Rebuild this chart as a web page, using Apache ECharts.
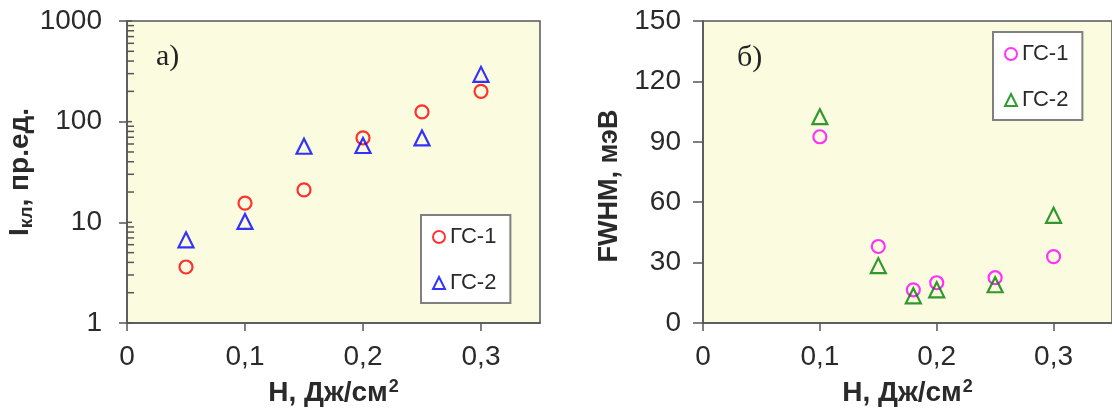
<!DOCTYPE html>
<html><head><meta charset="utf-8">
<script src="https://cdn.jsdelivr.net/npm/echarts@6/dist/echarts.min.js"></script>
<style>html,body{margin:0;padding:0;background:#fff}#c{width:1112px;height:412px}</style>
</head><body><div id="c"></div>
<script>
// Panel a) — log intensity
const xA = [0.05, 0.10, 0.15, 0.20, 0.25, 0.30];
const a_gs1 = [3.6, 15.5, 21, 69, 125, 200];
const a_gs2 = [6.7, 10.2, 57, 58, 69, 295];
// Panel б) — FWHM
const xB = [0.10, 0.15, 0.18, 0.20, 0.25, 0.30];
const b_gs1 = [92.5, 38, 16.5, 20, 22.5, 33];
const b_gs2 = [102.5, 28.5, 13.5, 16.5, 19, 53.5];
// Tick values
const logMajor = [1, 10, 100, 1000];
const logMinor = [2,3,4,5,6,7,8,9,20,30,40,50,60,70,80,90,200,300,400,500,600,700,800,900];
const seriesNames = ['ГС-1', 'ГС-2'];

const chart = echarts.init(document.getElementById('c'));
const FONT = '"Liberation Sans", Arial, sans-serif';
const SERIF = '"Liberation Serif", "DejaVu Serif", serif';
const axisCol = '#555';
const txtCol = '#2a2a2a';
const zip = (xs, ys) => xs.map((x, i) => [x, ys[i]]);
const fmtX = v => (v === 0 ? '0' : String(+v.toFixed(2)).replace('.', ','));

function xAxis(gi) {
  return {
    type: 'value', gridIndex: gi, min: 0, max: 0.35, interval: 0.1,
    name: 'Н, Дж/см{sup|2}', nameLocation: 'middle', nameGap: 55,
    nameTextStyle: { fontFamily: FONT, fontWeight: 'bold', fontSize: 28, color: txtCol,
      rich: { sup: { fontFamily: FONT, fontWeight: 'bold', fontSize: 18, color: txtCol, padding: [0, 0, 12, 1] } } },
    axisLine: { show: true, lineStyle: { color: axisCol, width: 1.5 } },
    axisTick: { show: true, inside: false, length: 8, lineStyle: { color: axisCol, width: 1.5 } },
    axisLabel: { showMaxLabel: false, formatter: fmtX, fontFamily: FONT, fontSize: 28, color: txtCol, margin: 20 },
    splitLine: { show: false }
  };
}

const tickSeries = (vals, len) => ({
  type: 'custom', xAxisIndex: 0, yAxisIndex: 0, silent: true, clip: false, z: 5,
  data: vals.map(v => [0, v]),
  renderItem: (params, api) => {
    const p = api.coord([0, api.value(1)]);
    return { type: 'line', shape: { x1: p[0], y1: p[1], x2: p[0] + len, y2: p[1] },
      style: { stroke: axisCol, lineWidth: 1.5 } };
  }
});

const legendBase = {
  orient: 'vertical', itemGap: 24, itemWidth: 12, itemHeight: 12,
  padding: [11, 14, 9, 11], backgroundColor: '#fff', borderColor: '#808080', borderWidth: 2,
  textStyle: { fontFamily: FONT, fontSize: 22, color: txtCol }, selectedMode: false
};

const option = {
  animation: false,
  backgroundColor: '#fff',
  title: [
    { text: 'a)', left: 151, top: 37, textStyle: { fontFamily: SERIF, fontWeight: 'normal', fontSize: 30, color: '#222' } },
    { text: 'б)', left: 732, top: 38, textStyle: { fontFamily: SERIF, fontWeight: 'normal', fontSize: 30, color: '#222' } }
  ],
  grid: [
    { left: 127, top: 21, width: 413, height: 303, show: true, backgroundColor: '#fbfbe0', borderColor: axisCol, borderWidth: 1.5 },
    { left: 703, top: 21, width: 413, height: 303, show: true, backgroundColor: '#fbfbe0', borderColor: axisCol, borderWidth: 1.5 }
  ],
  legend: [
    Object.assign({}, legendBase, { data: seriesNames, left: 421, top: 215 }),
    Object.assign({}, legendBase, { data: seriesNames.map(n => 'б' + n), left: 993, top: 32, formatter: n => n.slice(1) })
  ],
  xAxis: [xAxis(0), xAxis(1)],
  yAxis: [
    { type: 'log', logBase: 10, gridIndex: 0, min: 1, max: 1000,
      name: 'I{sub|кл}, пр.ед.', nameLocation: 'middle', nameGap: 72, nameRotate: 90,
      nameTextStyle: { fontFamily: FONT, fontWeight: 'bold', fontSize: 28, color: txtCol,
        rich: { sub: { fontFamily: FONT, fontWeight: 'bold', fontSize: 19, color: txtCol, padding: [13, 0, 0, 0] } } },
      axisLine: { show: true, lineStyle: { color: axisCol, width: 1.5 } },
      axisTick: { show: true, inside: false, length: 8, lineStyle: { color: axisCol, width: 1.5 } },
      axisLabel: { formatter: v => String(v), fontFamily: FONT, fontSize: 28, color: txtCol, margin: 25 },
      minorTick: { show: false }, splitLine: { show: false } },
    { type: 'value', gridIndex: 1, min: 0, max: 150, interval: 30,
      name: 'FWHM, мэВ', nameLocation: 'middle', nameGap: 80, nameRotate: 90,
      nameTextStyle: { fontFamily: FONT, fontWeight: 'bold', fontSize: 27, color: txtCol, padding: [0, 28, 0, 0] },
      axisLine: { show: true, lineStyle: { color: axisCol, width: 1.5 } },
      axisTick: { show: true, inside: false, length: 10, lineStyle: { color: axisCol, width: 1.5 } },
      axisLabel: { fontFamily: FONT, fontSize: 28, color: txtCol, margin: 22 },
      splitLine: { show: false } }
  ],
  series: [
    tickSeries(logMinor, 7),
    tickSeries(logMajor, 5),
    { name: seriesNames[0], type: 'scatter', xAxisIndex: 0, yAxisIndex: 0, data: zip(xA, a_gs1), symbol: 'circle', symbolSize: 13,
      itemStyle: { color: 'rgba(0,0,0,0)', borderColor: '#ff0000', borderWidth: 2.2 }, z: 3 },
    { name: seriesNames[1], type: 'scatter', xAxisIndex: 0, yAxisIndex: 0, data: zip(xA, a_gs2), symbol: 'triangle', symbolSize: 15,
      itemStyle: { color: 'rgba(0,0,0,0)', borderColor: '#0000ff', borderWidth: 2.2 }, z: 3 },
    { name: 'б' + seriesNames[0], type: 'scatter', xAxisIndex: 1, yAxisIndex: 1, data: zip(xB, b_gs1), symbol: 'circle', symbolSize: 13,
      itemStyle: { color: 'rgba(0,0,0,0)', borderColor: '#ff00ff', borderWidth: 2.2 }, z: 3 },
    { name: 'б' + seriesNames[1], type: 'scatter', xAxisIndex: 1, yAxisIndex: 1, data: zip(xB, b_gs2), symbol: 'triangle', symbolSize: 15,
      itemStyle: { color: 'rgba(0,0,0,0)', borderColor: '#008000', borderWidth: 2.2 }, z: 3 }
  ]
};
chart.setOption(option);
</script></body></html>
